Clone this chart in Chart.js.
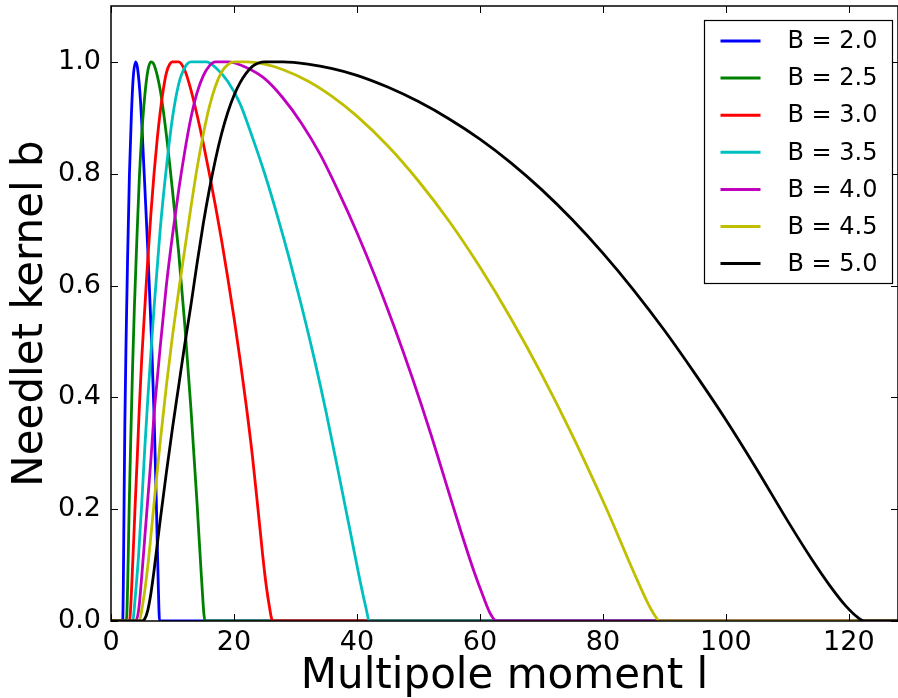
<!DOCTYPE html>
<html>
<head>
<meta charset="utf-8">
<style>
  html, body { margin: 0; padding: 0; background: #fff; }
</style>
<script src="https://cdn.jsdelivr.net/npm/chart.js@4.4.1/dist/chart.umd.min.js"></script>
</head>
<body>
<canvas id="needletChart" width="898" height="698"></canvas>
<script>
// values: multipole moment l and kernel b for each B
const seriesNames = ['B = 2.0', 'B = 2.5', 'B = 3.0', 'B = 3.5', 'B = 4.0', 'B = 4.5', 'B = 5.0'];

const l20 = [0, 1.9, 2.0, 2.1, 2.25, 2.45, 2.7, 3.0, 3.3, 3.6, 4.0, 4.3, 4.8, 5.4, 6.0, 6.6, 7.0, 7.4, 7.7, 7.9, 128];
const b20 = [0, 0, 0.06, 0.18, 0.35, 0.5, 0.65, 0.8, 0.9, 0.97, 1.0, 0.99, 0.93, 0.8, 0.66, 0.5, 0.37, 0.2, 0.06, 0, 0];

const l25 = [0, 2.5, 2.7, 2.95, 3.2, 3.5, 3.8, 4.2, 4.6, 5.0, 5.5, 6.0, 6.5, 7.0, 8.0, 9.0, 10.0, 11.0, 12.0, 13.0, 14.0, 14.7, 15.3, 128];
const b25 = [0, 0, 0.06, 0.2, 0.32, 0.45, 0.56, 0.68, 0.79, 0.87, 0.94, 0.985, 1.0, 0.995, 0.95, 0.87, 0.77, 0.66, 0.53, 0.38, 0.21, 0.08, 0, 0];

const l30 = [0, 3.0, 3.4, 3.9, 4.3, 4.6, 5.0, 5.5, 6.0, 6.5, 7.0, 7.5, 8.0, 8.5, 9.0, 9.5, 10.0, 11.0, 12.0, 13.0, 14.0, 15.0, 16.0, 17.0, 18.0, 19.0, 20.0, 21.0, 22.0, 23.0, 24.0, 25.0, 25.7, 26.3, 128];
const b30 = [0, 0, 0.07, 0.2, 0.3, 0.38, 0.47, 0.56, 0.65, 0.73, 0.8, 0.86, 0.91, 0.95, 0.98, 0.995, 1.0, 1.0, 0.985, 0.95, 0.905, 0.855, 0.8, 0.742, 0.68, 0.613, 0.543, 0.467, 0.385, 0.295, 0.19, 0.085, 0.03, 0, 0];

const l35 = [0, 3.5, 4.0, 4.5, 5.0, 5.5, 6.0, 6.5, 7.0, 8.0, 9.0, 10.0, 11.0, 12.0, 13.0, 15.5, 17.0, 19.0, 21.0, 23.0, 25.0, 27.0, 29.0, 31.0, 33.0, 35.0, 37.0, 39.0, 40.5, 41.5, 42.0, 128];
const b35 = [0, 0, 0.05, 0.12, 0.21, 0.31, 0.4, 0.48, 0.56, 0.7, 0.81, 0.9, 0.96, 0.99, 1.0, 1.0, 0.99, 0.965, 0.925, 0.865, 0.8, 0.727, 0.648, 0.563, 0.472, 0.373, 0.265, 0.155, 0.072, 0.022, 0, 0];

const l40 = [0, 4.0, 4.5, 5.0, 5.5, 6.0, 6.5, 7.0, 7.5, 8.0, 9.0, 10.0, 11.0, 12.0, 13.0, 14.0, 15.0, 16.0, 17.0, 19.0, 22.0, 25.0, 28.0, 31.0, 34.0, 37.0, 40.0, 43.0, 46.0, 49.0, 52.0, 55.0, 57.0, 59.0, 60.5, 61.7, 62.7, 128];
const b40 = [0, 0, 0.02, 0.08, 0.15, 0.22, 0.29, 0.37, 0.43, 0.49, 0.6, 0.69, 0.77, 0.84, 0.9, 0.945, 0.975, 0.993, 1.0, 1.0, 0.99, 0.97, 0.935, 0.89, 0.835, 0.768, 0.695, 0.615, 0.528, 0.435, 0.335, 0.228, 0.157, 0.09, 0.045, 0.013, 0, 0];

const l45 = [0, 4.5, 5.3, 6.0, 7.0, 8.0, 9.0, 10.0, 11.0, 12.0, 13.0, 14.0, 15.0, 16.0, 17.0, 18.0, 19.0, 20.0, 22.0, 25.0, 28.0, 32.0, 36.0, 40.0, 45.0, 50.0, 55.0, 60.0, 65.0, 70.0, 75.0, 80.0, 82.0, 84.0, 86.0, 87.5, 88.5, 89.2, 128];
const b45 = [0, 0, 0.04, 0.1, 0.21, 0.32, 0.42, 0.51, 0.59, 0.665, 0.74, 0.81, 0.87, 0.92, 0.957, 0.982, 0.995, 1.0, 1.0, 0.996, 0.986, 0.966, 0.938, 0.903, 0.85, 0.787, 0.715, 0.633, 0.542, 0.442, 0.333, 0.215, 0.165, 0.113, 0.063, 0.028, 0.009, 0, 0];

const l50 = [0, 5.0, 5.5, 6.0, 6.5, 7.0, 7.5, 8.0, 9.0, 10.0, 11.0, 12.0, 13.0, 14.0, 15.0, 16.0, 17.0, 18.0, 19.0, 20.0, 21.0, 22.0, 23.0, 24.0, 25.0, 28.0, 32.0, 36.0, 40.0, 45.0, 50.0, 55.0, 60.0, 65.0, 70.0, 75.0, 80.0, 85.0, 90.0, 95.0, 100.0, 105.0, 110.0, 114.0, 117.0, 119.5, 121.5, 122.5, 128];
const b50 = [0, 0, 0.004, 0.02, 0.05, 0.09, 0.135, 0.18, 0.265, 0.345, 0.42, 0.495, 0.565, 0.64, 0.71, 0.772, 0.826, 0.872, 0.91, 0.94, 0.963, 0.98, 0.992, 0.998, 1.0, 1.0, 0.996, 0.988, 0.976, 0.955, 0.929, 0.898, 0.862, 0.82, 0.772, 0.718, 0.658, 0.592, 0.52, 0.442, 0.36, 0.272, 0.18, 0.11, 0.062, 0.027, 0.006, 0, 0];

const xTicks = [0, 20, 40, 60, 80, 100, 120];
const yTicks = [0, 0.2, 0.4, 0.6, 0.8, 1.0];

const seriesL = [l20, l25, l30, l35, l40, l45, l50];
const seriesB = [b20, b25, b30, b35, b40, b45, b50];
const lineColors = ['#0000ff', '#008000', '#ff0000', '#00bfbf', '#bf00bf', '#bfbf00', '#000000'];

Chart.defaults.font.family = '"DejaVu Sans", sans-serif';
Chart.defaults.color = '#000';

function toPoints(ls, bs) {
  return ls.map((l, i) => ({ x: l, y: bs[i] }));
}

// frame on all four sides with matplotlib-style inward ticks
const frameTicks = {
  id: 'frameTicks',
  afterDatasetsDraw(chart) {
    const { ctx, chartArea: a, scales } = chart;
    ctx.save();
    ctx.strokeStyle = '#000';
    ctx.lineWidth = 1;
    const len = 7;
    ctx.beginPath();
    xTicks.forEach(v => {
      const px = Math.round(scales.x.getPixelForValue(v)) + 0.5;
      ctx.moveTo(px, a.bottom); ctx.lineTo(px, a.bottom - len);
      ctx.moveTo(px, a.top); ctx.lineTo(px, a.top + len);
    });
    yTicks.forEach(v => {
      const py = Math.round(scales.y.getPixelForValue(v)) + 0.5;
      ctx.moveTo(a.left, py); ctx.lineTo(a.left + len, py);
      ctx.moveTo(a.right, py); ctx.lineTo(a.right - len, py);
    });
    ctx.stroke();
    ctx.lineWidth = 1.5;
    ctx.strokeRect(a.left, a.top, a.right - a.left, a.bottom - a.top);
    ctx.restore();
  }
};

// boxed legend in the upper right corner
const boxLegend = {
  id: 'boxLegend',
  afterDraw(chart) {
    const ctx = chart.ctx;
    const x0 = 704.5, y0 = 20.5, w = 188, h = 263;
    ctx.save();
    ctx.fillStyle = '#fff';
    ctx.fillRect(x0, y0, w, h);
    ctx.strokeStyle = '#000';
    ctx.lineWidth = 1.2;
    ctx.strokeRect(x0, y0, w, h);
    ctx.font = '24px "DejaVu Sans"';
    ctx.textBaseline = 'middle';
    chart.data.datasets.forEach((ds, i) => {
      const y = y0 + 20.5 + i * 37.1;
      ctx.strokeStyle = ds.borderColor;
      ctx.lineWidth = 3;
      ctx.beginPath();
      ctx.moveTo(x0 + 16, y);
      ctx.lineTo(x0 + 56, y);
      ctx.stroke();
      ctx.fillStyle = '#000';
      ctx.fillText(ds.label, x0 + 83, y + 1);
    });
    ctx.restore();
  }
};

const needletChart = document.getElementById('needletChart');

new Chart(needletChart, {
  type: 'line',
  data: {
    datasets: seriesNames.map((name, i) => ({
      label: name,
      data: toPoints(seriesL[i], seriesB[i]),
      borderColor: lineColors[i],
      backgroundColor: lineColors[i],
      borderWidth: 2.8,
      pointRadius: 0,
      cubicInterpolationMode: 'monotone',
      order: seriesNames.length - i
    }))
  },
  options: {
    responsive: false,
    animation: false,
    layout: { padding: { top: 6, right: -2, left: 0, bottom: 0 } },
    plugins: {
      legend: { display: false },
      tooltip: { enabled: false }
    },
    scales: {
      x: {
        type: 'linear',
        min: 0,
        max: 128,
        afterBuildTicks: s => { s.ticks = xTicks.map(v => ({ value: v })); },
        afterFit: s => { s.height = 77; s.paddingRight = 0; s.paddingLeft = 0; },
        grid: { display: false, drawTicks: false },
        border: { display: false },
        ticks: { font: { size: 27 }, padding: 6, maxRotation: 0 },
        title: {
          display: true,
          text: 'Multipole moment l',
          font: { size: 42, lineHeight: 1 },
          padding: { top: 0, bottom: 0 }
        }
      },
      y: {
        min: 0,
        max: 1.1,
        afterBuildTicks: s => { s.ticks = yTicks.map(v => ({ value: v })); },
        afterFit: s => { s.width = 111; s.paddingTop = 0; s.paddingBottom = 0; },
        grid: { display: false, drawTicks: false },
        border: { display: false },
        ticks: { font: { size: 27 }, padding: 10, callback: v => v.toFixed(1) },
        title: {
          display: true,
          text: 'Needlet kernel b',
          font: { size: 42, lineHeight: 1 },
          padding: { top: 10, bottom: 0 }
        }
      }
    }
  },
  plugins: [frameTicks, boxLegend]
});
</script>
</body>
</html>
